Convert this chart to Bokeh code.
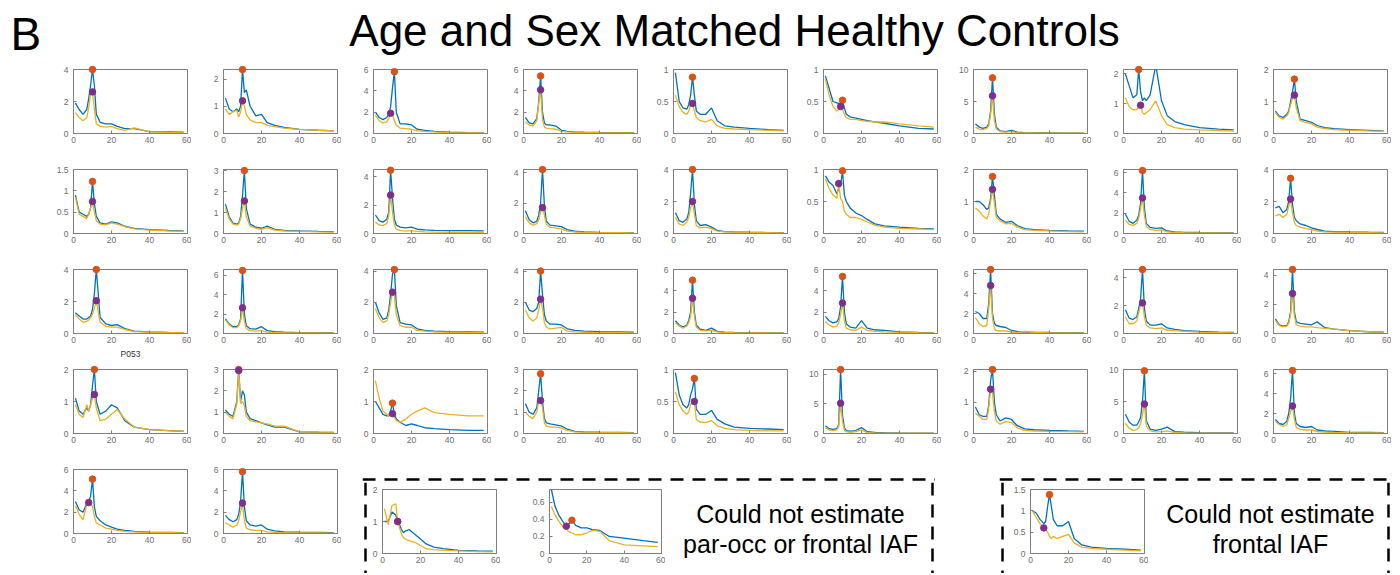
from bokeh.plotting import figure
from bokeh.models import Range1d, FixedTicker, NumeralTickFormatter, Span, Label, Spacer
from bokeh.layouts import row, column
from bokeh.embed import file_html
from bokeh.resources import INLINE

# ---------------- data ----------------
FREQ = [1, 3, 5, 7, 8, 9, 10, 11, 12, 14, 17, 20, 23, 27, 32, 40, 50, 58]
X_TICKS = [0, 20, 40, 60]

parocc_01 = [1.9,1.5,1.2,1.5,2.2,3.0,4.0,3.0,1.2,0.7,0.6,0.6,0.45,0.3,0.3,0.12,0.1,0.08]
frontal_01 = [1.3,1.0,0.8,1.0,1.6,2.5,2.6,1.5,0.6,0.45,0.4,0.45,0.3,0.2,0.35,0.1,0.07,0.05]
parocc_02 = [1.3,0.9,0.8,0.9,0.8,1.0,2.35,1.5,1.6,1.0,0.65,0.7,0.4,0.3,0.22,0.15,0.12,0.1]
frontal_02 = [0.9,0.7,0.8,0.85,0.6,0.8,1.2,1.0,0.7,0.5,0.4,0.4,0.3,0.25,0.2,0.15,0.12,0.1]
parocc_03 = [2.0,1.5,1.3,1.5,1.8,2.5,4.3,5.8,2.0,0.9,0.9,0.8,0.4,0.3,0.2,0.12,0.08,0.06]
frontal_03 = [1.7,1.2,1.0,1.1,1.4,1.9,1.8,1.2,0.8,0.5,0.45,0.4,0.25,0.2,0.15,0.08,0.06,0.05]
parocc_04 = [1.5,1.0,0.9,1.4,3.0,5.4,2.0,1.0,0.8,0.8,0.7,0.3,0.2,0.15,0.12,0.1,0.08,0.07]
frontal_04 = [1.1,0.8,0.7,1.2,2.8,4.1,1.3,0.6,0.5,0.45,0.4,0.2,0.15,0.12,0.1,0.08,0.06,0.05]
parocc_05 = [0.95,0.5,0.4,0.38,0.45,0.6,0.88,0.6,0.35,0.3,0.3,0.4,0.2,0.12,0.1,0.08,0.06,0.05]
frontal_05 = [0.6,0.42,0.33,0.3,0.35,0.45,0.47,0.35,0.25,0.2,0.18,0.22,0.12,0.08,0.07,0.06,0.05,0.04]
parocc_06 = [0.9,0.7,0.5,0.48,0.47,0.47,0.52,0.4,0.3,0.26,0.24,0.22,0.2,0.18,0.16,0.12,0.08,0.07]
frontal_06 = [0.85,0.6,0.42,0.35,0.38,0.42,0.38,0.3,0.25,0.22,0.22,0.2,0.19,0.18,0.18,0.15,0.12,0.1]
parocc_07 = [1.5,1.0,0.8,1.0,1.5,3.5,8.7,3.0,1.0,0.4,0.3,0.5,0.2,0.15,0.1,0.08,0.06,0.05]
frontal_07 = [1.0,0.7,0.6,0.8,1.2,3.0,5.9,2.0,0.7,0.3,0.2,0.3,0.15,0.1,0.08,0.06,0.05,0.04]
parocc_08 = [2.0,1.6,1.2,1.3,2.15,1.4,1.1,1.2,1.1,1.3,2.3,1.1,0.6,0.4,0.3,0.2,0.15,0.12]
frontal_08 = [1.2,0.9,0.8,0.8,0.9,0.95,0.7,0.65,0.7,0.8,1.1,0.6,0.3,0.2,0.15,0.12,0.1,0.08]
parocc_09 = [0.7,0.55,0.5,0.6,0.7,1.0,1.3,1.7,1.0,0.45,0.4,0.35,0.25,0.18,0.15,0.12,0.1,0.08]
frontal_09 = [0.65,0.5,0.45,0.55,0.65,0.9,1.1,1.2,0.8,0.4,0.35,0.3,0.2,0.15,0.12,0.1,0.08,0.07]
parocc_10 = [0.9,0.5,0.45,0.4,0.45,0.6,1.22,0.7,0.4,0.25,0.22,0.27,0.25,0.17,0.12,0.09,0.07,0.06]
frontal_10 = [0.85,0.45,0.4,0.35,0.45,0.6,0.75,0.5,0.3,0.22,0.2,0.25,0.22,0.16,0.11,0.08,0.06,0.05]
parocc_11 = [1.4,0.8,0.5,0.45,0.5,0.8,1.8,3.0,1.2,0.45,0.3,0.25,0.35,0.2,0.15,0.12,0.1,0.09]
frontal_11 = [1.2,0.7,0.45,0.4,0.45,0.7,1.2,1.55,0.8,0.35,0.25,0.2,0.28,0.16,0.12,0.1,0.08,0.07]
parocc_12 = [1.3,0.9,0.8,1.0,1.5,4.45,2.5,1.0,0.6,0.45,0.4,0.45,0.3,0.25,0.22,0.2,0.2,0.18]
frontal_12 = [0.8,0.6,0.55,0.7,1.2,2.7,1.5,0.6,0.3,0.2,0.18,0.2,0.15,0.12,0.1,0.08,0.07,0.06]
parocc_13 = [1.5,0.9,0.7,0.8,1.2,2.0,4.2,1.8,0.8,0.55,0.5,0.45,0.25,0.15,0.1,0.08,0.06,0.05]
frontal_13 = [1.1,0.7,0.55,0.65,0.9,1.4,1.7,1.2,0.6,0.4,0.35,0.3,0.15,0.1,0.08,0.06,0.05,0.04]
parocc_14 = [1.3,0.8,0.7,0.9,1.3,2.5,4.0,1.8,0.8,0.5,0.55,0.4,0.2,0.12,0.1,0.08,0.06,0.05]
frontal_14 = [1.0,0.6,0.5,0.7,1.0,1.6,2.0,1.2,0.5,0.35,0.4,0.3,0.15,0.1,0.08,0.06,0.05,0.04]
parocc_15 = [0.9,0.8,0.75,0.62,0.7,0.75,0.98,0.6,0.5,0.4,0.32,0.28,0.22,0.15,0.12,0.1,0.08,0.07]
frontal_15 = [0.85,0.7,0.6,0.55,0.78,0.55,0.5,0.35,0.3,0.25,0.25,0.22,0.18,0.13,0.1,0.08,0.07,0.06]
parocc_16 = [1.0,1.0,0.9,0.75,0.8,1.1,1.78,1.2,0.6,0.45,0.35,0.38,0.25,0.15,0.12,0.1,0.08,0.07]
frontal_16 = [0.8,0.7,0.55,0.45,0.6,1.0,1.38,0.95,0.5,0.4,0.3,0.32,0.2,0.12,0.1,0.08,0.06,0.05]
parocc_17 = [1.9,1.2,1.0,1.3,1.8,3.0,6.2,2.5,1.0,0.6,0.5,0.55,0.25,0.15,0.12,0.1,0.08,0.07]
frontal_17 = [1.3,0.9,0.8,1.0,1.5,2.5,3.5,1.8,0.7,0.4,0.3,0.35,0.15,0.1,0.08,0.06,0.05,0.04]
parocc_18 = [1.6,1.7,1.3,1.5,2.0,3.45,1.8,1.0,0.8,0.6,0.5,0.35,0.25,0.15,0.12,0.1,0.08,0.07]
frontal_18 = [1.1,1.2,1.0,1.2,1.7,2.15,1.3,0.7,0.5,0.4,0.3,0.25,0.15,0.1,0.08,0.06,0.05,0.04]
parocc_19 = [1.3,1.1,0.9,0.9,1.0,1.1,1.5,2.5,4.0,1.0,0.6,0.5,0.55,0.3,0.15,0.1,0.07,0.06]
frontal_19 = [1.2,0.9,0.7,0.75,0.85,1.0,1.2,1.6,2.05,0.7,0.45,0.4,0.4,0.25,0.12,0.08,0.06,0.05]
parocc_20 = [1.5,1.0,0.7,0.7,0.9,1.5,6.5,2.0,0.8,0.5,0.45,0.7,0.3,0.2,0.15,0.1,0.08,0.07]
frontal_20 = [1.4,0.9,0.6,0.6,0.8,1.3,2.65,1.2,0.5,0.3,0.25,0.3,0.15,0.1,0.08,0.06,0.05,0.04]
parocc_21 = [2.0,1.3,0.9,1.0,1.5,2.5,3.8,4.1,1.8,0.7,0.6,0.55,0.3,0.2,0.15,0.12,0.1,0.08]
frontal_21 = [1.6,1.0,0.7,0.8,1.2,2.0,2.65,2.4,1.2,0.5,0.4,0.4,0.2,0.15,0.1,0.08,0.06,0.05]
parocc_22 = [2.0,1.5,1.4,1.6,2.0,4.0,2.5,1.2,0.8,0.6,0.6,0.55,0.3,0.2,0.15,0.12,0.1,0.08]
frontal_22 = [1.5,1.0,0.8,1.0,1.5,2.2,1.6,0.7,0.4,0.3,0.35,0.4,0.15,0.1,0.08,0.06,0.05,0.04]
parocc_23 = [1.2,0.8,0.6,0.8,1.2,2.0,5.0,2.0,0.8,0.4,0.3,0.5,0.2,0.12,0.1,0.08,0.06,0.05]
frontal_23 = [1.0,0.7,0.5,0.7,1.0,1.6,3.3,1.6,0.6,0.3,0.25,0.3,0.15,0.1,0.08,0.06,0.05,0.04]
parocc_24 = [1.6,1.2,1.0,1.1,1.4,2.5,5.35,2.0,0.9,0.6,0.5,1.2,0.5,0.35,0.3,0.15,0.1,0.08]
frontal_24 = [1.1,0.8,0.6,0.7,1.0,1.8,2.85,1.2,0.5,0.35,0.3,0.6,0.3,0.2,0.15,0.1,0.07,0.06]
parocc_25 = [2.2,2.0,1.5,1.5,3.0,6.4,2.0,1.0,0.8,0.7,0.6,0.3,0.2,0.15,0.12,0.1,0.08,0.07]
frontal_25 = [1.6,1.0,0.7,0.8,2.5,4.8,1.5,0.5,0.3,0.25,0.25,0.15,0.12,0.2,0.1,0.07,0.05,0.04]
parocc_26 = [1.7,1.1,1.0,1.2,1.8,2.5,4.6,1.8,0.9,0.6,0.6,0.7,0.4,0.3,0.2,0.15,0.1,0.08]
frontal_26 = [1.2,0.7,0.7,0.9,1.5,2.0,2.2,1.2,0.6,0.4,0.35,0.4,0.25,0.2,0.15,0.1,0.07,0.05]
parocc_27 = [1.0,0.6,0.5,0.55,0.8,1.5,4.4,1.5,0.8,0.7,0.65,0.6,0.8,0.4,0.3,0.2,0.12,0.1]
frontal_27 = [0.9,0.55,0.45,0.5,0.7,1.3,2.75,1.2,0.6,0.5,0.45,0.45,0.4,0.35,0.3,0.2,0.12,0.1]
parocc_28 = [1.1,0.7,0.6,0.8,0.7,0.9,1.5,2.0,1.0,0.6,0.7,0.9,0.8,0.4,0.2,0.12,0.09,0.07]
frontal_28 = [0.9,0.6,0.5,0.9,0.7,0.9,1.1,1.22,0.8,0.4,0.45,0.6,0.75,0.45,0.2,0.12,0.09,0.07]
parocc_29 = [1.1,0.9,0.8,1.5,3.0,1.5,2.0,1.8,1.0,0.7,0.6,0.5,0.4,0.3,0.3,0.08,0.06,0.05]
frontal_29 = [1.0,0.8,0.7,1.4,2.95,1.4,1.5,1.3,0.8,0.6,0.55,0.5,0.45,0.35,0.35,0.08,0.06,0.05]
parocc_30 = [1.0,0.8,0.6,0.55,0.55,0.7,0.95,0.6,0.45,0.35,0.25,0.3,0.25,0.18,0.15,0.12,0.1,0.1]
frontal_30 = [1.65,1.1,0.7,0.6,0.55,0.6,0.62,0.5,0.4,0.35,0.45,0.6,0.7,0.8,0.65,0.6,0.55,0.55]
parocc_31 = [1.4,1.0,0.9,1.2,2.0,2.8,1.5,0.7,0.5,0.45,0.4,0.35,0.2,0.1,0.08,0.06,0.05,0.04]
frontal_31 = [1.0,0.8,0.7,1.0,1.5,1.55,1.2,0.5,0.35,0.3,0.3,0.25,0.15,0.08,0.06,0.05,0.04,0.03]
parocc_32 = [0.95,0.6,0.45,0.4,0.45,0.6,0.7,0.86,0.38,0.3,0.3,0.36,0.22,0.15,0.1,0.08,0.07,0.06]
frontal_32 = [0.65,0.45,0.35,0.3,0.33,0.45,0.5,0.5,0.22,0.18,0.17,0.2,0.12,0.08,0.06,0.05,0.04,0.04]
parocc_33 = [1.3,0.8,0.7,0.8,1.5,10.8,3.0,1.0,0.5,0.4,0.5,1.0,0.3,0.2,0.15,0.1,0.08,0.07]
frontal_33 = [1.0,0.6,0.5,0.6,1.2,5.1,2.0,0.6,0.3,0.2,0.3,0.6,0.15,0.1,0.08,0.06,0.05,0.04]
parocc_34 = [0.85,0.6,0.55,0.55,0.9,1.7,2.05,1.0,0.6,0.4,0.5,0.45,0.25,0.15,0.12,0.1,0.08,0.07]
frontal_34 = [0.65,0.55,0.45,0.45,0.8,1.42,1.3,0.7,0.4,0.3,0.38,0.35,0.18,0.1,0.08,0.07,0.06,0.05]
parocc_35 = [3.0,1.8,1.3,1.3,1.8,2.5,5.0,9.8,2.0,0.7,0.5,0.7,1.0,0.3,0.2,0.12,0.1,0.08]
frontal_35 = [1.6,0.8,0.5,0.6,0.9,1.5,3.0,4.6,1.2,0.4,0.25,0.3,0.4,0.15,0.1,0.07,0.06,0.05]
parocc_36 = [1.4,1.0,0.9,1.2,2.0,3.5,6.3,2.0,1.0,0.7,0.6,0.7,0.35,0.25,0.2,0.12,0.1,0.08]
frontal_36 = [1.2,0.9,0.7,0.9,1.5,2.2,2.75,1.4,0.6,0.4,0.35,0.35,0.2,0.15,0.1,0.08,0.06,0.05]
parocc_37 = [3.0,2.2,2.0,2.8,3.0,3.5,5.1,2.5,1.6,1.2,0.8,0.6,0.4,0.3,0.2,0.12,0.1,0.08]
frontal_37 = [2.6,1.8,1.3,2.7,2.9,2.8,2.5,1.6,1.0,0.8,0.5,0.4,0.3,0.2,0.15,0.1,0.08,0.06]
parocc_38 = [1.7,1.3,1.1,1.3,1.8,3.0,5.8,2.5,1.2,0.8,0.7,0.8,0.4,0.25,0.15,0.12,0.1,0.08]
frontal_38 = [1.0,0.8,0.6,0.8,1.2,2.0,2.85,1.2,0.5,0.35,0.3,0.3,0.15,0.1,0.08,0.06,0.05,0.04]
# could not estimate par-occ or frontal IAF
parocc_39 = [1.0,1.0,1.3,1.2,1.0,0.9,0.75,0.65,0.7,0.75,0.6,0.45,0.3,0.2,0.15,0.1,0.08,0.07]
frontal_39 = [1.4,0.9,1.5,1.55,1.0,0.8,0.6,0.5,0.45,0.4,0.35,0.25,0.15,0.12,0.1,0.08,0.06,0.05]
parocc_40 = [0.75,0.55,0.45,0.38,0.35,0.33,0.34,0.36,0.39,0.33,0.3,0.3,0.28,0.27,0.2,0.18,0.15,0.13]
frontal_40 = [0.55,0.45,0.38,0.32,0.3,0.32,0.26,0.25,0.24,0.22,0.22,0.24,0.27,0.26,0.15,0.1,0.09,0.08]
# could not estimate frontal IAF
parocc_41 = [1.0,0.95,0.8,0.7,0.75,1.1,1.38,1.1,0.8,0.65,0.65,0.75,0.35,0.2,0.15,0.12,0.1,0.08]
frontal_41 = [1.0,0.85,0.7,0.6,0.55,0.5,0.4,0.35,0.4,0.35,0.4,0.45,0.25,0.15,0.12,0.1,0.08,0.06]

parocc_peak_f = [10,10,11,9,10,10,10,8,11, 10,11,9,10,10,10,10,10,9,
                 12,10,11,9,10,10,9,10,10, 11,8,10,9,11,9,10,11,10, 10,10, 8,12, 10]
parocc_peak_p = [4.0,2.35,5.8,5.4,0.88,0.52,8.7,2.15,1.7, 1.22,3.0,4.45,4.2,4.0,0.98,1.78,6.2,3.45,
                 4.0,6.5,4.1,4.0,5.0,5.35,6.4,4.6,4.4, 2.0,3.0,0.95,2.8,0.86,10.8,2.05,9.8,6.3,
                 5.1,5.8, 1.0,0.39, 1.38]
frontal_peak_f = [10,10,9,9,10,9,10,9,11, 10,11,9,10,10,8,10,10,9,
                  12,10,10,9,10,10,9,10,10, 11,8,10,9,11,9,9,11,10, 8,10, 8,9, 7]
frontal_peak_p = [2.6,1.2,1.9,4.1,0.47,0.42,5.9,0.95,1.2, 0.75,1.55,2.7,1.7,2.0,0.78,1.38,3.5,2.15,
                  2.05,2.65,2.65,2.2,3.3,2.85,4.8,2.2,2.75, 1.22,2.95,0.62,1.55,0.5,5.1,1.42,4.6,2.75,
                  2.9,2.85, 1.0,0.32, 0.6]
y_top = [4,2.35,6,6,1,1,10,2.15,2, 1.5,3.05,4.5,4.2,4,1,2,6.3,4,
         4,6.6,4.1,4.1,6,6,6.4,4.6,4.4, 2,3,2,3,1,10.8,2.05,10,6.4,
         6,6, 2,0.75, 1.5]
y_ticks = [[0,2,4],[0,1,2],[0,2,4,6],[0,2,4,6],[0,0.5,1],[0,0.5,1],[0,5,10],[0,1,2],[0,1,2],
           [0,0.5,1,1.5],[0,1,2,3],[0,2,4],[0,2,4],[0,2,4],[0,0.5,1],[0,1,2],[0,2,4,6],[0,2,4],
           [0,2,4],[0,2,4,6],[0,2,4],[0,2,4],[0,2,4,6],[0,2,4,6],[0,2,4,6],[0,2,4],[0,2,4],
           [0,1,2],[0,1,2,3],[0,1,2],[0,1,2,3],[0,0.5,1],[0,5,10],[0,1,2],[0,5,10],[0,2,4,6],
           [0,2,4,6],[0,2,4,6], [0,1,2],[0,0.2,0.4,0.6], [0,0.5,1,1.5]]
x_labels = {18: "P053"}

PAROCC = [parocc_01, parocc_02, parocc_03, parocc_04, parocc_05, parocc_06, parocc_07, parocc_08, parocc_09,
          parocc_10, parocc_11, parocc_12, parocc_13, parocc_14, parocc_15, parocc_16, parocc_17, parocc_18,
          parocc_19, parocc_20, parocc_21, parocc_22, parocc_23, parocc_24, parocc_25, parocc_26, parocc_27,
          parocc_28, parocc_29, parocc_30, parocc_31, parocc_32, parocc_33, parocc_34, parocc_35, parocc_36,
          parocc_37, parocc_38, parocc_39, parocc_40, parocc_41]
FRONTAL = [frontal_01, frontal_02, frontal_03, frontal_04, frontal_05, frontal_06, frontal_07, frontal_08, frontal_09,
           frontal_10, frontal_11, frontal_12, frontal_13, frontal_14, frontal_15, frontal_16, frontal_17, frontal_18,
           frontal_19, frontal_20, frontal_21, frontal_22, frontal_23, frontal_24, frontal_25, frontal_26, frontal_27,
           frontal_28, frontal_29, frontal_30, frontal_31, frontal_32, frontal_33, frontal_34, frontal_35, frontal_36,
           frontal_37, frontal_38, frontal_39, frontal_40, frontal_41]

TITLE = "Age and Sex Matched Healthy Controls"
PANEL_LETTER = "B"
NOTE_1 = ["Could not estimate", "par-occ or frontal IAF"]
NOTE_2 = ["Could not estimate", "frontal IAF"]

# ---------------- style ----------------
BLUE = "#0072BD"
YELLOW = "#EDB120"
RED = "#D95319"
PURPLE = "#7E2F8E"
AXC = "#7f7f7f"
FONT = "Liberation Sans"
M = 8  # page margin (the template itself has none)


def panel(i, w, h, bl, br, bt, bb):
    p = figure(width=w, height=h, x_range=Range1d(0, 60), y_range=Range1d(0, y_top[i]),
               output_backend="svg", toolbar_location=None, title=None,
               min_border_left=bl, min_border_right=br, min_border_top=bt, min_border_bottom=bb)
    p.line(FREQ, PAROCC[i], line_color=BLUE, line_width=1.3)
    p.line(FREQ, FRONTAL[i], line_color=YELLOW, line_width=1.3)
    p.scatter([parocc_peak_f[i]], [parocc_peak_p[i]], size=6.5, fill_color=RED, line_color=RED,
              level="overlay")
    p.scatter([frontal_peak_f[i]], [frontal_peak_p[i]], size=6.5, fill_color=PURPLE, line_color=PURPLE,
              level="overlay")
    p.xaxis.ticker = FixedTicker(ticks=X_TICKS)
    p.yaxis.ticker = FixedTicker(ticks=y_ticks[i])
    p.yaxis.formatter = NumeralTickFormatter(format="0.[0]")
    for ax in (p.xaxis[0], p.yaxis[0]):
        ax.major_tick_in = 3
        ax.major_tick_out = 0
        ax.minor_tick_line_color = None
        ax.axis_line_color = AXC
        ax.major_tick_line_color = AXC
        ax.major_label_text_font_size = "8.5px"
        ax.major_label_text_color = "#6e6e6e"
        ax.major_label_text_font = FONT
    p.xaxis.major_label_standoff = 3
    p.yaxis.major_label_standoff = 5
    if i in x_labels:
        p.xaxis.axis_label = x_labels[i]
        p.xaxis.axis_label_text_font = FONT
        p.xaxis.axis_label_text_font_size = "8.5px"
        p.xaxis.axis_label_text_font_style = "normal"
        p.xaxis.axis_label_text_color = "#333333"
        p.xaxis.axis_label_standoff = 3
    p.xgrid.visible = False
    p.ygrid.visible = False
    p.outline_line_color = AXC
    p.outline_line_width = 1
    p.background_fill_color = "white"
    p.border_fill_color = "white"
    return p


def blank(w, h):
    p = figure(width=w, height=h, x_range=Range1d(0, w), y_range=Range1d(0, h),
               output_backend="svg", toolbar_location=None, min_border=0, title=None,
               x_axis_type=None, y_axis_type=None)
    p.xgrid.visible = False
    p.ygrid.visible = False
    p.outline_line_color = None
    p.border_fill_color = "white"
    p.background_fill_color = "white"
    return p


def hedge(w, h, y):
    p = blank(w, h)
    p.add_layout(Span(location=y, dimension="width", line_color="black",
                      line_width=2.5, line_dash="13 9"))
    return p


def vedge(h):
    p = blank(6, h)
    p.add_layout(Span(location=3, dimension="height", line_color="black",
                      line_width=2.5, line_dash="13 9"))
    return p


def note(w, h, lines, cx):
    p = blank(w, h)
    for txt, y in zip(lines, [60, 30]):
        p.add_layout(Label(x=cx, y=y, text=txt, text_align="center", text_baseline="middle",
                           text_font=FONT, text_font_size="25px", text_color="black"))
    return p


# header (includes the 8px top margin)
head = blank(1391, 57 + M)
head.add_layout(Label(x=10, y=32, text=PANEL_LETTER, text_font=FONT, text_font_size="46px",
                      text_color="black", text_baseline="middle"))
head.add_layout(Label(x=734, y=35, text=TITLE, text_font=FONT, text_font_size="44px",
                      text_color="black", text_align="center", text_baseline="middle"))

LEFT = 33 + M
rows = [head]
for r in range(4):
    figs = [panel(r * 9 + c, 150, 100, 32, 4, 4, 32) for c in range(9)]
    rows.append(row([Spacer(width=LEFT, height=100)] + figs))

p37 = panel(36, 150, 100, 32, 4, 4, 32)
p38 = panel(37, 150, 100, 32, 4, 4, 32)

EH = 91  # height of the box contents (box continues past the bottom edge)


def box_panel(i, w, bl):
    return column([panel(i, w, 83, bl, 4, 7, 12), Spacer(width=w, height=EH - 83)])


box1 = column([
    hedge(573, 17, 3),
    row([vedge(EH),
         box_panel(38, 132, 14),
         Spacer(width=29, height=EH),
         box_panel(39, 136, 18),
         note(264, EH, NOTE_1, 135),
         vedge(EH)]),
])
box2 = column([
    hedge(392, 17, 3),
    row([vedge(EH),
         Spacer(width=5, height=EH),
         box_panel(40, 138, 20),
         note(237, EH, NOTE_2, 122),
         vedge(EH)]),
])
rows.append(row([Spacer(width=LEFT, height=100), p37, p38, Spacer(width=21, height=100),
                 box1, Spacer(width=64, height=100), box2]))

layout = column(rows)
open("out.html", "w").write(file_html(layout, INLINE))
